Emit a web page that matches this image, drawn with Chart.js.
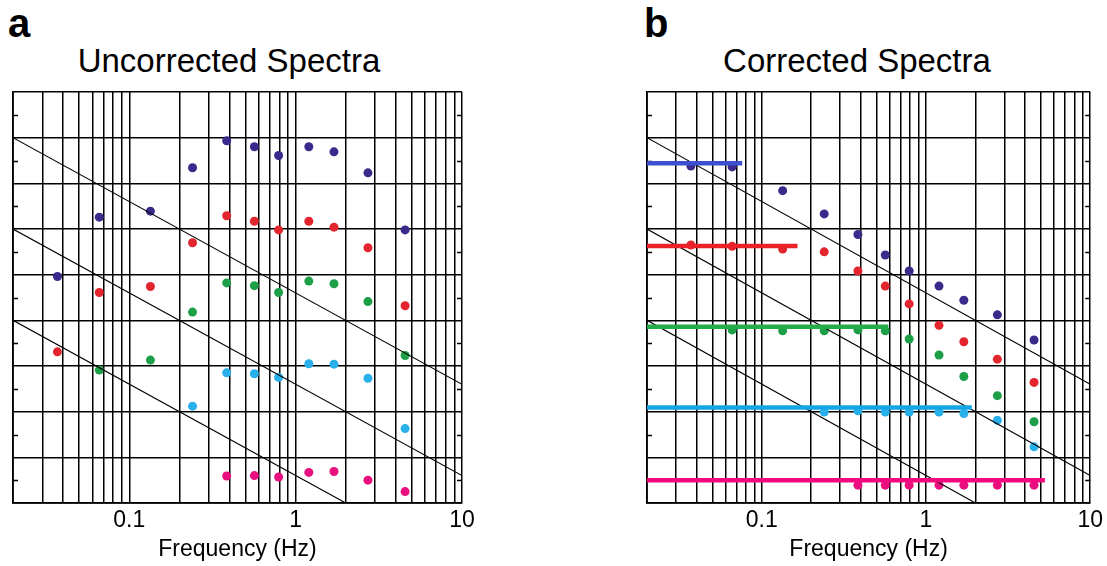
<!DOCTYPE html>
<html>
<head>
<meta charset="utf-8">
<script src="https://cdn.jsdelivr.net/npm/chart.js@4.4.1/dist/chart.umd.min.js"></script>
<style>
  html, body { margin: 0; padding: 0; background: #fff; }
  body { width: 1107px; height: 566px; position: relative; overflow: hidden;
         font-family: "Liberation Sans", Arial, Helvetica, sans-serif; color: #000; }
  canvas { position: absolute; top: 0; }
  .letter { position: absolute; font-weight: bold; font-size: 40px; line-height: 1; }
  .title { position: absolute; width: 400px; text-align: center; font-size: 33px; line-height: 1; }
</style>
</head>
<body>
<div class="letter" style="left:8px; top:3px">a</div>
<div class="letter" style="left:644px; top:3px">b</div>
<div class="title" style="left:29px; top:44px">Uncorrected Spectra</div>
<div class="title" style="left:657px; top:44px">Corrected Spectra</div>
<canvas id="chartA" width="553" height="566" style="left:0"></canvas>
<canvas id="chartB" width="554" height="566" style="left:553px"></canvas>
<script>
// frequency bins (Hz), shared by every series
const freqs = [0.037, 0.066, 0.134, 0.24, 0.385, 0.565, 0.79, 1.2, 1.7, 2.72, 4.55];

// uncorrected spectra (log amplitude, grid units)
const uncPurple  = [4.96, 6.26, 6.39, 7.34, 7.93, 7.80, 7.61, 7.80, 7.69, 7.23, 5.98];
const uncRed     = [3.31, 4.61, 4.74, 5.70, 6.29, 6.17, 5.98, 6.17, 6.04, 5.59, 4.32];
const uncGreen   = [null, 2.91, 3.13, 4.18, 4.82, 4.76, 4.61, 4.86, 4.80, 4.41, 3.23];
const uncCyan    = [null, null, null, 2.12, 2.85, 2.83, 2.75, 3.05, 3.04, 2.73, 1.63];
const uncMagenta = [null, null, null, null, 0.59, 0.60, 0.57, 0.67, 0.69, 0.50, 0.25];

// corrected spectra
const corPurple  = [7.38, 7.36, 6.84, 6.33, 5.88, 5.43, 5.08, 4.75, 4.44, 4.12, 3.57];
const corRed     = [5.65, 5.62, 5.56, 5.50, 5.08, 4.75, 4.36, 3.89, 3.53, 3.15, 2.64];
const corGreen   = [null, 3.79, 3.77, 3.77, 3.79, 3.77, 3.59, 3.24, 2.77, 2.35, 1.78];
const corCyan    = [null, null, null, 1.99, 2.02, 1.99, 1.99, 1.99, 1.96, 1.81, 1.23];
const corMagenta = [null, null, null, null, 0.39, 0.39, 0.39, 0.39, 0.39, 0.39, 0.39];

// flat levels fitted in the corrected panel, and where each one stops (Hz)
const flatLevels = [7.44, 5.63, 3.86, 2.09, 0.50];
const flatEnds   = [0.076, 0.165, 0.59, 1.9, 5.3];

// the three sloping reference lines (same in both panels)
const diagX = [[0.02, 10], [0.02, 10], [0.02, 2]];
const diagY = [[8, 2.6], [6, 0.6], [4, 0]];

// axes
const xTicks = [0.02, 0.03, 0.04, 0.05, 0.06, 0.07, 0.08, 0.09,
                0.1, 0.2, 0.3, 0.4, 0.5, 0.6, 0.7, 0.8, 0.9,
                1, 2, 3, 4, 5, 6, 7, 8, 9, 10];
const xLabels = [0.1, 1, 10];
const yTicks = [0, 1, 2, 3, 4, 5, 6, 7, 8, 9];
const yMinor = [0.5, 1.5, 2.5, 3.5, 4.5, 5.5, 6.5, 7.5, 8.5];

const dotColors  = ['#3b2a8c', '#e3262e', '#1d9f48', '#27b0ea', '#e8107f'];
const flatColors = ['#3b4fcf', '#ec2028', '#22ad4a', '#12a6e6', '#f5087f'];

function toPoints(xs, ys) {
  return xs.map((x, i) => ({ x: x, y: ys[i] })).filter(p => p.y !== null);
}

function dotSets(list) {
  return list.map((vals, i) => ({
    data: toPoints(freqs, vals),
    showLine: false,
    pointRadius: 4.5,
    pointHoverRadius: 4.5,
    pointBackgroundColor: dotColors[i],
    pointBorderWidth: 0
  }));
}

function diagSets() {
  return diagX.map((xs, i) => ({
    data: toPoints(xs, diagY[i]),
    showLine: true,
    borderColor: '#000',
    borderWidth: 1.1,
    pointRadius: 0
  }));
}

function flatSets() {
  return flatLevels.map((lvl, i) => ({
    data: [{ x: 0.02, y: lvl }, { x: flatEnds[i], y: lvl }],
    showLine: true,
    borderColor: flatColors[i],
    borderWidth: 4.5,
    borderCapStyle: 'butt',
    pointRadius: 0
  }));
}

// short inward tick marks between the horizontal grid lines, both sides
const sideTicks = {
  id: 'sideTicks',
  beforeDatasetsDraw(chart) {
    const { ctx, chartArea } = chart;
    const y = chart.scales.y;
    ctx.save();
    ctx.strokeStyle = '#000';
    ctx.lineWidth = 1.5;
    ctx.beginPath();
    yMinor.forEach(v => {
      const py = Math.round(y.getPixelForValue(v)) + 0.5;
      ctx.moveTo(chartArea.left, py);
      ctx.lineTo(chartArea.left + 5, py);
      ctx.moveTo(chartArea.right - 5, py);
      ctx.lineTo(chartArea.right, py);
    });
    ctx.stroke();
    ctx.restore();
  }
};

function makeChart(id, datasets, padLeft, padRight) {
  return new Chart(document.getElementById(id), {
    type: 'scatter',
    data: { datasets: datasets },
    plugins: [sideTicks],
    options: {
      responsive: false,
      animation: false,
      devicePixelRatio: 1,
      layout: { padding: { left: padLeft, right: padRight, top: 92, bottom: 0 } },
      plugins: { legend: { display: false }, tooltip: { enabled: false } },
      scales: {
        x: {
          type: 'logarithmic',
          min: 0.02,
          max: 10,
          afterBuildTicks: s => { s.ticks = xTicks.map(v => ({ value: v })); },
          afterFit: s => { s.height = 63; },
          grid: { color: '#000', lineWidth: 1.5, drawTicks: false },
          border: { color: '#000', width: 1.8 },
          ticks: {
            autoSkip: false,
            maxRotation: 0,
            padding: 4,
            color: '#000',
            font: { family: '"Liberation Sans", Arial, sans-serif', size: 23 },
            callback: v => xLabels.includes(v) ? String(v) : ''
          },
          title: {
            display: true,
            text: 'Frequency (Hz)',
            color: '#000',
            padding: { top: 0, bottom: 3 },
            font: { family: '"Liberation Sans", Arial, sans-serif', size: 23 }
          }
        },
        y: {
          min: 0,
          max: 9,
          afterBuildTicks: s => { s.ticks = yTicks.map(v => ({ value: v })); },
          afterFit: s => { s.width = 0; },
          grid: { color: '#000', lineWidth: 1.5, drawTicks: false },
          border: { color: '#000', width: 1.8 },
          ticks: { display: false }
        }
      }
    }
  });
}

makeChart('chartA',
  diagSets().concat(dotSets([uncPurple, uncRed, uncGreen, uncCyan, uncMagenta])),
  13, 91);

makeChart('chartB',
  flatSets().concat(diagSets(), dotSets([corPurple, corRed, corGreen, corCyan, corMagenta])),
  94, 11);
</script>
</body>
</html>
